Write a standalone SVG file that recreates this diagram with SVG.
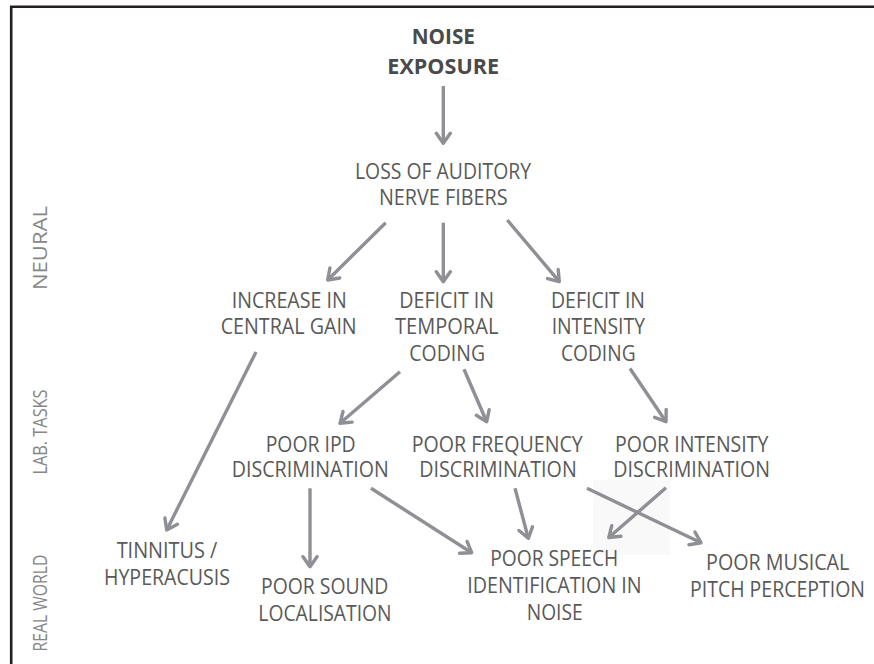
<svg xmlns="http://www.w3.org/2000/svg" width="874" height="664" viewBox="0 0 874 664">
<defs>
<style>
.t{font-family:"Open Sans","Liberation Sans",sans-serif;font-size:21px;fill:#595959;text-anchor:middle}
.b{font-weight:bold;fill:#4a4a4a}
.side{font-family:"Open Sans","Liberation Sans",sans-serif;font-size:20px;fill:#878787;text-anchor:middle}
.c line{stroke:#8f9095;stroke-width:3.4;fill:none;marker-end:url(#ah)}
</style>
<marker id="ah" markerUnits="userSpaceOnUse" viewBox="-14 -10 16 20" refX="0" refY="0" markerWidth="16" markerHeight="20" orient="auto">
<path d="M-10,-7 L0,0 L-10,7" fill="none" stroke="#8f9095" stroke-width="3.4" stroke-linecap="round" stroke-linejoin="round"/>
</marker>
</defs>
<rect width="874" height="664" fill="#ffffff"/>
<rect x="593" y="480" width="77" height="75" fill="#f9f9f9"/>
<path d="M11.2,664 V6.7 H874" fill="none" stroke="#231f20" stroke-width="2.6"/>

<g id="side-labels">
<text class="side" transform="translate(47,248) rotate(-90)" textLength="84" lengthAdjust="spacingAndGlyphs">NEURAL</text>
<text class="side" transform="translate(47,432) rotate(-90)" textLength="85" lengthAdjust="spacingAndGlyphs">LAB. TASKS</text>
<text class="side" transform="translate(47,603) rotate(-90)" textLength="97" lengthAdjust="spacingAndGlyphs">REAL WORLD</text>
</g>

<g id="connectors" class="c">
<line x1="443.3" y1="86" x2="443.3" y2="143.3"/>
<line x1="385.7" y1="222.7" x2="327.7" y2="280"/>
<line x1="443.3" y1="222.7" x2="443.3" y2="281.7"/>
<line x1="507.3" y1="220" x2="559.3" y2="281.7"/>
<line x1="256" y1="352" x2="166.7" y2="530"/>
<line x1="400" y1="371.7" x2="340" y2="423.3"/>
<line x1="464" y1="369.3" x2="486.7" y2="421.7"/>
<line x1="630" y1="368.5" x2="666" y2="421.7"/>
<line x1="310" y1="488.3" x2="310" y2="566.7"/>
<line x1="371" y1="488.3" x2="471.7" y2="552.7"/>
<line x1="515" y1="488.3" x2="528.3" y2="538.3"/>
<line x1="587" y1="488.3" x2="701" y2="542.7"/>
<line x1="666" y1="487.8" x2="608.8" y2="537.5"/>
</g>

<g id="noise-exposure">
<text class="t b" x="443.3" y="43.5" textLength="63.3" lengthAdjust="spacingAndGlyphs">NOISE</text>
<text class="t b" x="443.2" y="74" textLength="111.7" lengthAdjust="spacingAndGlyphs">EXPOSURE</text>
</g>
<g id="loss-fibers">
<text class="t" x="443" y="179" textLength="176" lengthAdjust="spacingAndGlyphs">LOSS OF AUDITORY</text>
<text class="t" x="443.3" y="205" textLength="128.7" lengthAdjust="spacingAndGlyphs">NERVE FIBERS</text>
</g>
<g id="central-gain">
<text class="t" x="289.2" y="307.7" textLength="115" lengthAdjust="spacingAndGlyphs">INCREASE IN</text>
<text class="t" x="288.7" y="334" textLength="136" lengthAdjust="spacingAndGlyphs">CENTRAL GAIN</text>
</g>
<g id="temporal-coding">
<text class="t" x="446.7" y="307.7" textLength="94.7" lengthAdjust="spacingAndGlyphs">DEFICIT IN</text>
<text class="t" x="446.7" y="334" textLength="103.3" lengthAdjust="spacingAndGlyphs">TEMPORAL</text>
<text class="t" x="447.2" y="361" textLength="75.7" lengthAdjust="spacingAndGlyphs">CODING</text>
</g>
<g id="intensity-coding">
<text class="t" x="598" y="307.7" textLength="94" lengthAdjust="spacingAndGlyphs">DEFICIT IN</text>
<text class="t" x="598.3" y="334" textLength="93.3" lengthAdjust="spacingAndGlyphs">INTENSITY</text>
<text class="t" x="598.3" y="361" textLength="74.5" lengthAdjust="spacingAndGlyphs">CODING</text>
</g>
<g id="ipd">
<text class="t" x="310.7" y="452" textLength="90" lengthAdjust="spacingAndGlyphs">POOR IPD</text>
<text class="t" x="310.3" y="477" textLength="157" lengthAdjust="spacingAndGlyphs">DISCRIMINATION</text>
</g>
<g id="frequency">
<text class="t" x="497.2" y="452" textLength="171" lengthAdjust="spacingAndGlyphs">POOR FREQUENCY</text>
<text class="t" x="498" y="477" textLength="157.4" lengthAdjust="spacingAndGlyphs">DISCRIMINATION</text>
</g>
<g id="intensity">
<text class="t" x="691.7" y="451.5" textLength="153.3" lengthAdjust="spacingAndGlyphs">POOR INTENSITY</text>
<text class="t" x="691.7" y="477" textLength="156.7" lengthAdjust="spacingAndGlyphs">DISCRIMINATION</text>
</g>
<g id="tinnitus">
<text class="t" x="167" y="558.3" textLength="100.7" lengthAdjust="spacingAndGlyphs">TINNITUS /</text>
<text class="t" x="167" y="585" textLength="126" lengthAdjust="spacingAndGlyphs">HYPERACUSIS</text>
</g>
<g id="localisation">
<text class="t" x="324.7" y="594.3" textLength="127.3" lengthAdjust="spacingAndGlyphs">POOR SOUND</text>
<text class="t" x="325" y="621" textLength="133.3" lengthAdjust="spacingAndGlyphs">LOCALISATION</text>
</g>
<g id="speech">
<text class="t" x="554.2" y="566" textLength="128" lengthAdjust="spacingAndGlyphs">POOR SPEECH</text>
<text class="t" x="554.5" y="592.5" textLength="174.4" lengthAdjust="spacingAndGlyphs">IDENTIFICATION IN</text>
<text class="t" x="554.7" y="620" textLength="56" lengthAdjust="spacingAndGlyphs">NOISE</text>
</g>
<g id="musical">
<text class="t" x="777.7" y="570" textLength="143.3" lengthAdjust="spacingAndGlyphs">POOR MUSICAL</text>
<text class="t" x="777.5" y="596.7" textLength="175" lengthAdjust="spacingAndGlyphs">PITCH PERCEPTION</text>
</g>
</svg>
